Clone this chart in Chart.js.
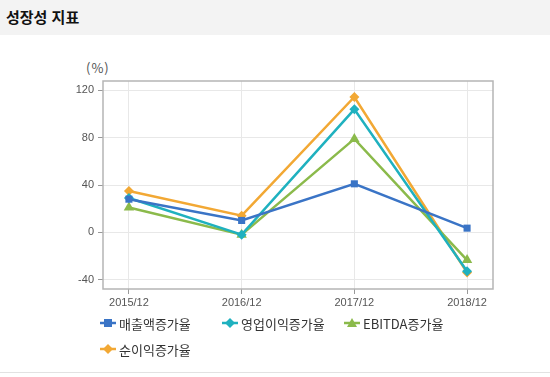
<!DOCTYPE html>
<html lang="ko">
<head>
<meta charset="UTF-8">
<title>성장성 지표</title>
<style>
  body { margin: 0; width: 550px; height: 377px; background: #fff; position: relative; overflow: hidden;
         font-family: "Noto Sans CJK KR", "Noto Sans", sans-serif; }
  #header { position: absolute; left: 0; top: 0; width: 550px; height: 35px; background: #f3f3f3; }
  #header h2 { margin: 0; position: absolute; left: 6px; top: 6px; font-size: 15px; font-weight: bold; color: #111; }
  #unit { position: absolute; left: 86px; top: 58px; font-size: 13px; color: #555; letter-spacing: 1px; }
  #wrap { position: absolute; left: 0; top: 40px; width: 550px; height: 271px; }
  #legend { position: absolute; left: 100px; top: 310px; width: 380px; display: flex; flex-wrap: wrap;
            font-size: 13px; color: #333; }
  #legend .item { display: flex; align-items: center; min-width: 122px; height: 26px; }
  #legend svg { margin-right: 3px; }
  #bottomline { position: absolute; left: 0; top: 372px; width: 550px; height: 1px; background: #e2e2e2; }
</style>
</head>
<body>
<div id="header"><h2>성장성 지표</h2></div>
<div id="unit">(%)</div>
<div id="wrap"><canvas id="growthChart"></canvas></div>
<div id="legend"></div>
<div id="bottomline"></div>

<script src="https://cdn.jsdelivr.net/npm/chart.js"></script>
<script>
  // data
  const periods = ['2015/12', '2016/12', '2017/12', '2018/12'];
  const yTicks = [-40, 0, 40, 80, 120];
  const salesGrowth = [28, 10, 41, 3.5];
  const opProfitGrowth = [29, -2, 104, -33];
  const ebitdaGrowth = [21, -2, 79, -23.5];
  const netProfitGrowth = [35, 14, 114.5, -34];

  const seriesNames = ['매출액증가율', '영업이익증가율', 'EBITDA증가율', '순이익증가율'];
  const seriesColors = ['#3a74c6', '#1fb1bf', '#8bba4b', '#f2a834'];
  const seriesMarkers = ['rect', 'rectRot', 'triangle', 'rectRot'];
  const seriesValues = [salesGrowth, opProfitGrowth, ebitdaGrowth, netProfitGrowth];

  const datasets = seriesValues.map((vals, i) => ({
    label: seriesNames[i],
    data: vals.map((v, j) => ({ x: j, y: v })),
    borderColor: seriesColors[i],
    backgroundColor: seriesColors[i],
    borderWidth: 2.5,
    pointStyle: seriesMarkers[i],
    pointRadius: i === 2 ? 6 : 5,
    pointBorderWidth: 0,
    tension: 0
  }));

  // draws the box around the plot area
  const frame = {
    id: 'frame',
    afterDatasetsDraw(chart) {
      const a = chart.chartArea, c = chart.ctx;
      c.save();
      c.strokeStyle = '#b5b5b5';
      c.lineWidth = 1.5;
      c.strokeRect(a.left, a.top, a.right - a.left, a.bottom - a.top);
      c.restore();
    }
  };

  const ctx = document.getElementById('growthChart').getContext('2d');
  const growthChart = new Chart(ctx, {
    type: 'line',
    data: { datasets },
    options: {
      responsive: true,
      maintainAspectRatio: false,
      animation: false,
      layout: { padding: { left: 70, right: 57, top: 41, bottom: 0 } },
      plugins: { legend: { display: false }, tooltip: { enabled: false } },
      scales: {
        x: {
          type: 'linear',
          min: -0.23,
          max: 3.23,
          afterBuildTicks: s => { s.ticks = periods.map((p, i) => ({ value: i })); },
          afterFit: s => { s.height = 22; },
          ticks: {
            callback: v => periods[v],
            color: '#555',
            font: { family: 'Arial, Liberation Sans', size: 11 },
            padding: 2,
            maxRotation: 0
          },
          grid: { color: '#e8e8e8', tickColor: '#999', tickLength: 5 },
          border: { display: false }
        },
        y: {
          min: -48,
          max: 128,
          afterBuildTicks: s => { s.ticks = yTicks.map(v => ({ value: v })); },
          afterFit: s => { s.width = 33; },
          ticks: {
            color: '#555',
            font: { family: 'Arial, Liberation Sans', size: 11 },
            padding: 4
          },
          grid: { color: '#e8e8e8', tickColor: '#999', tickLength: 5 },
          border: { display: false }
        }
      }
    },
    plugins: [frame]
  });

  // html legend built from the datasets
  const legendEl = document.getElementById('legend');
  growthChart.data.datasets.forEach((ds, i) => {
    const item = document.createElement('div');
    item.className = 'item';
    let marker;
    if (ds.pointStyle === 'rect') marker = '<rect x="4" y="2" width="8" height="8"/>';
    else if (ds.pointStyle === 'triangle') marker = '<polygon points="8,1 13,10 3,10"/>';
    else marker = '<polygon points="8,1 13,6 8,11 3,6"/>';
    item.innerHTML = '<svg width="16" height="12"><line x1="0" y1="6" x2="16" y2="6" stroke="' + ds.borderColor +
      '" stroke-width="2.5"/><g fill="' + ds.borderColor + '">' + marker + '</g></svg><span>' + ds.label + '</span>';
    legendEl.appendChild(item);
  });
</script>
</body>
</html>
